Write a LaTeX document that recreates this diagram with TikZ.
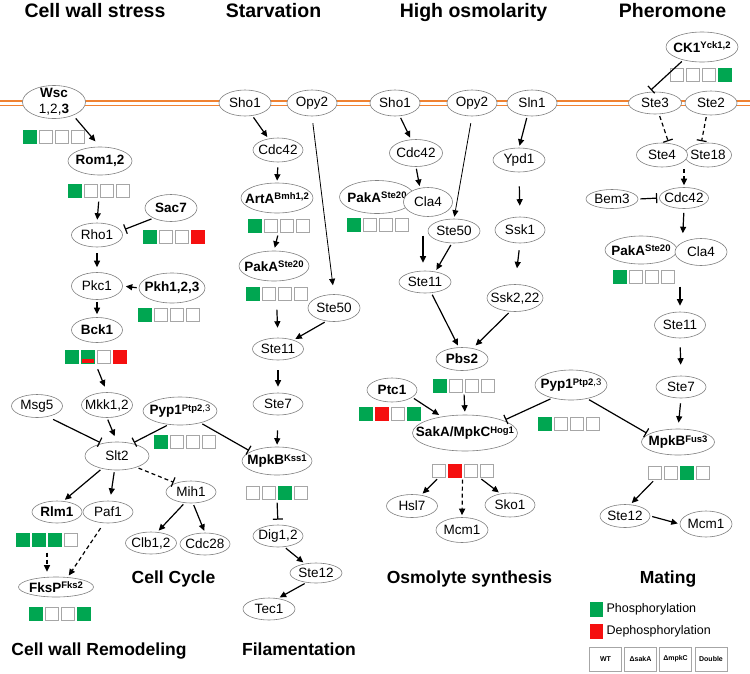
\documentclass[tikz,border=0pt]{standalone}
\usepackage{fontspec}
\setmainfont{Liberation Sans}
\usetikzlibrary{arrows.meta, calc, shapes.geometric}

\definecolor{pgreen}{RGB}{0,166,81}
\definecolor{pred}{RGB}{245,15,15}
\definecolor{membrane}{RGB}{240,130,50}

\newcommand{\sps}[1]{\raisebox{3.5pt}{\fontsize{9.5}{10}\selectfont #1}}
\newcommand{\phosrow}[6]{%
  \node[markrow] (#1) at (#2) {};
  \node[#3] (#1-1) at ($(#1)+(-24,0)$) {};
  \node[#4] (#1-2) at ($(#1)+(-8,0)$) {};
  \node[#5] (#1-3) at ($(#1)+(8,0)$) {};
  \node[#6] (#1-4) at ($(#1)+(24,0)$) {};
}

\begin{document}
\begin{tikzpicture}[x=1pt, y=-1pt,
    prot/.style={ellipse, draw=gray, line width=0.6pt, fill=white, inner xsep=-20pt, inner ysep=-6pt, minimum width=51pt, minimum height=24pt, font=\fontsize{13.5}{16}\selectfont},
    bprot/.style={prot, font=\fontsize{13.5}{16}\selectfont\bfseries},
    act/.style={-{Triangle[length=6.5pt, width=6pt]}, line width=1.2pt, shorten <=2pt, shorten >=2pt},
    inh/.style={-{Bar[width=10pt, line width=1.2pt]}, line width=1.2pt, shorten <=2pt, shorten >=2pt},
    dsh/.style={dash pattern=on 4pt off 3pt},
    title/.style={font=\fontsize{19.5}{22}\selectfont\bfseries, anchor=base},
    outcome/.style={font=\fontsize{17.5}{20}\selectfont\bfseries, anchor=base},
    markrow/.style={rectangle, inner sep=0pt, minimum width=61pt, minimum height=13pt},
    markbox/.style={rectangle, line width=0.6pt, inner sep=0pt, minimum size=13pt},
    mnone/.style={markbox, draw=gray!70, fill=white},
    mphos/.style={markbox, draw=pgreen, fill=pgreen},
    mdeph/.style={markbox, draw=pred, fill=pred},
    msplit/.style={mphos, path picture={\fill[pred] (path picture bounding box.south west) rectangle ([yshift=4.5pt]path picture bounding box.south east);}},
    legtext/.style={anchor=west, font=\fontsize{12.5}{14}\selectfont},
    legbox/.style={rectangle, draw=gray!70, line width=0.6pt, minimum width=32pt, minimum height=24pt, inner sep=0pt, font=\fontsize{7}{8}\selectfont\bfseries}
  ]
  \useasboundingbox (0,0) rectangle (750,673);

  % membrane
  \coordinate (memL) at (0,103);
  \coordinate (memR) at (750,103);
  \draw[draw=membrane, double=white, double distance=3pt, line width=1.3pt] (memL) -- (memR);

  % titles
  \node[title] (tcws) at (95,17) {Cell wall stress};
  \node[title] (tstv) at (273.5,17) {Starvation};
  \node[title] (thos) at (473.5,17) {High osmolarity};
  \node[title] (tphe) at (672.5,17) {Pheromone};

  % cell wall stress
  \node[prot, minimum width=63pt, minimum height=33pt, align=center] (wsc) at (54,102) {\textbf{Wsc}\\1,2,\textbf{3}};
  \phosrow{wscb}{53.5,137}{mphos}{mnone}{mnone}{mnone}
  \node[bprot, minimum width=64pt, minimum height=28pt] (rom) at (100,161) {Rom1,2};
  \phosrow{romb}{99,191}{mphos}{mnone}{mnone}{mnone}
  \node[bprot, minimum width=52pt, minimum height=27pt] (sac7) at (171,208) {Sac7};
  \phosrow{sac7b}{174,237}{mphos}{mnone}{mnone}{mdeph}
  \node[prot] (rho1) at (97,235) {Rho1};
  \node[prot, minimum height=27pt] (pkc1) at (97,286) {Pkc1};
  \node[bprot, minimum width=66pt, minimum height=30pt] (pkh) at (172,288) {Pkh1,2,3};
  \phosrow{pkhb}{169,315}{mphos}{mnone}{mnone}{mnone}
  \node[bprot, minimum height=25pt] (bck1) at (97,330) {Bck1};
  \phosrow{bckb}{95.5,357}{mphos}{msplit}{mnone}{mdeph}
  \node[prot, minimum height=23pt] (msg5) at (37,406) {Msg5};
  \node[prot, minimum height=25pt] (mkk) at (107,405) {Mkk1,2};
  \node[bprot, minimum width=74pt, minimum height=28pt] (pyp1L) at (180,411) {Pyp1\sps{Ptp2{\mdseries,3}}};
  \phosrow{pyp1Lb}{185,442}{mphos}{mnone}{mnone}{mnone}
  \node[prot, minimum width=64pt, minimum height=28pt] (slt2) at (117,456) {Slt2};
  \node[bprot, minimum width=50pt, minimum height=22pt] (rlm1) at (57,512) {Rlm1};
  \node[prot, minimum width=50pt, minimum height=22pt] (paf1) at (108,512) {Paf1};
  \phosrow{rlmb}{47,540}{mphos}{mphos}{mphos}{mnone}
  \node[prot, minimum width=50pt, minimum height=22pt] (mih1) at (191,492) {Mih1};
  \node[prot, minimum height=22pt] (clb) at (151,543) {Clb1,2};
  \node[prot, minimum width=50pt, minimum height=22pt] (cdc28) at (205,544) {Cdc28};
  \node[bprot, minimum width=75pt, minimum height=20pt] (fksp) at (56,587) {FksP\sps{Fks2}};
  \phosrow{fkspb}{59.5,614}{mphos}{mnone}{mnone}{mphos}
  \node[outcome] (tccy) at (173.5,583) {Cell Cycle};
  \node[outcome] (tcwr) at (99,655.5) {Cell wall Remodeling};

  % starvation
  \node[prot, minimum width=52pt, minimum height=26pt] (sho1S) at (245,103) {Sho1};
  \node[prot, minimum width=50pt, minimum height=26pt] (opy2S) at (312,103) {Opy2};
  \node[prot, minimum width=50pt] (cdc42S) at (278,150) {Cdc42};
  \node[bprot, minimum width=72pt, minimum height=30pt] (artA) at (277,198) {ArtA\sps{Bmh1,2}};
  \phosrow{artAb}{278.5,226}{mphos}{mnone}{mnone}{mnone}
  \node[bprot, minimum width=70pt, minimum height=30pt] (pakS) at (274,266) {PakA\sps{Ste20}};
  \phosrow{pakSb}{276.5,294}{mphos}{mnone}{mnone}{mnone}
  \node[prot, minimum width=52pt, minimum height=27pt] (ste50S) at (334,308) {Ste50};
  \node[prot, minimum height=22pt] (ste11S) at (278,349) {Ste11};
  \node[prot, minimum width=50pt, minimum height=22pt] (ste7S) at (278,404) {Ste7};
  \node[bprot, minimum width=70pt, minimum height=28pt] (mpkbK) at (277,461) {MpkB\sps{Kss1}};
  \phosrow{mpkbKb}{277,493}{mnone}{mnone}{mphos}{mnone}
  \node[prot, minimum width=50pt, minimum height=22pt] (dig) at (278,536) {Dig1,2};
  \node[prot, minimum width=52pt, minimum height=20pt] (ste12S) at (316,573) {Ste12};
  \node[prot, minimum width=52pt, minimum height=22pt] (tec1) at (269,609) {Tec1};
  \node[outcome] (tfil) at (299,655.5) {Filamentation};

  % high osmolarity
  \node[prot, minimum width=50pt, minimum height=26pt] (sho1H) at (395,103) {Sho1};
  \node[prot, minimum width=50pt, minimum height=26pt] (opy2H) at (472,103) {Opy2};
  \node[prot, minimum width=50pt, minimum height=26pt] (sln1) at (532,103) {Sln1};
  \node[prot, minimum width=53pt, minimum height=27pt] (cdc42H) at (416,153) {Cdc42};
  \node[bprot, minimum width=75pt, minimum height=33pt] (pakH) at (377,197) {PakA\sps{Ste20}};
  \node[prot, minimum width=49pt, minimum height=29pt] (cla4H) at (428,202) {Cla4};
  \phosrow{pakHb}{377.5,225}{mphos}{mnone}{mnone}{mnone}
  \node[prot, minimum width=52pt] (ste50H) at (454,231) {Ste50};
  \node[prot, minimum width=52pt] (ypd1) at (519,160) {Ypd1};
  \node[prot, minimum width=50pt, minimum height=26pt] (ssk1) at (520,230) {Ssk1};
  \node[prot, minimum width=52pt, minimum height=22pt] (ste11H) at (425,282) {Ste11};
  \node[prot, minimum width=56pt, minimum height=27pt] (ssk2) at (515,298) {Ssk2,22};
  \node[bprot, minimum width=52pt, minimum height=23pt] (pbs2) at (462,359) {Pbs2};
  \phosrow{pbs2b}{464,386}{mphos}{mnone}{mnone}{mnone}
  \node[bprot, minimum width=50pt] (ptc1) at (392,390) {Ptc1};
  \phosrow{ptc1b}{389.5,414}{mphos}{mdeph}{mnone}{mphos}
  \node[bprot, minimum width=105pt, minimum height=36pt] (saka) at (465,433) {SakA/MpkC\sps{Hog1}};
  \phosrow{sakab}{462.5,471}{mnone}{mdeph}{mnone}{mnone}
  \node[bprot, minimum width=72pt, minimum height=30pt] (pyp1R) at (571,385) {Pyp1\sps{Ptp2{\mdseries,3}}};
  \phosrow{pyp1Rb}{569,424}{mphos}{mnone}{mnone}{mnone}
  \node[prot, minimum height=23pt] (hsl7) at (412,506) {Hsl7};
  \node[prot, minimum width=52pt, minimum height=25pt] (mcm1H) at (462,530) {Mcm1};
  \node[prot, minimum width=50pt] (sko1) at (510,505) {Sko1};
  \node[outcome] (tosm) at (469.5,583) {Osmolyte synthesis};

  % pheromone
  \node[bprot, minimum width=72pt, minimum height=30pt] (ck1) at (702,47) {CK1\sps{Yck1,2}};
  \phosrow{ck1b}{700.5,75}{mnone}{mnone}{mnone}{mphos}
  \node[prot, minimum width=53pt, minimum height=22pt] (ste3) at (655,103) {Ste3};
  \node[prot, minimum width=52pt] (ste2) at (711,103) {Ste2};
  \node[prot, minimum width=47pt] (ste18) at (708,155) {Ste18};
  \node[prot, minimum width=51pt] (ste4) at (662,155) {Ste4};
  \node[prot, minimum width=52pt, minimum height=19pt] (bem3) at (612,199) {Bem3};
  \node[prot, minimum width=49pt, minimum height=21pt] (cdc42P) at (684,198) {Cdc42};
  \node[bprot, minimum width=72pt, minimum height=28pt] (pakP) at (641,250) {PakA\sps{Ste20}};
  \node[prot, minimum width=52pt, minimum height=27pt] (cla4P) at (701,252) {Cla4};
  \phosrow{pakPb}{643.5,277}{mphos}{mnone}{mnone}{mnone}
  \node[prot, minimum height=26pt] (ste11P) at (680,325) {Ste11};
  \node[prot, minimum width=50pt, minimum height=22pt] (ste7P) at (681,387) {Ste7};
  \node[bprot, minimum width=73pt, minimum height=26pt] (mpkbF) at (678,442) {MpkB\sps{Fus3}};
  \phosrow{mpkbFb}{678.5,473}{mnone}{mnone}{mphos}{mnone}
  \node[prot, minimum width=50pt, minimum height=23pt] (ste12P) at (625,516) {Ste12};
  \node[prot, minimum width=52pt, minimum height=26pt] (mcm1P) at (706,524) {Mcm1};
  \node[outcome] (tmat) at (668,583) {Mating};

  % legend
  \node[mphos, minimum width=12pt, minimum height=14pt] (lgph) at (596,609) {};
  \node[legtext] (lgpht) at (603,609) {Phosphorylation};
  \node[mdeph, minimum width=12pt, minimum height=14pt] (lgde) at (596,631) {};
  \node[legtext] (lgdet) at (603,631) {Dephosphorylation};
  \node[legbox] (lgwt) at (605.5,659) {WT};
  \node[legbox] (lgsa) at (640.5,659) {ΔsakA};
  \node[legbox] (lgmc) at (675.5,659) {ΔmpkC};
  \node[legbox] (lgdb) at (711,659) {Double};

  % cell wall stress links
  \draw[act, shorten <=4pt, shorten >=7pt] (wsc.-35) -- (rom.north);
  \draw[act, shorten <=4pt, shorten >=3pt] (romb.south) -- (rho1.north);
  \draw[inh, shorten >=4pt] (sac7.210) -- (rho1.10);
  \draw[act, shorten <=6pt, shorten >=5pt] (rho1.south) -- (pkc1.north);
  \draw[act, shorten >=3pt] (pkh.west) -- (pkc1.east);
  \draw[act, shorten >=3pt] (pkc1.south) -- (bck1.north);
  \draw[act, shorten <=6pt, shorten >=6pt] (bckb.south) -- (mkk.north);
  \draw[inh, shorten <=6pt] (msg5.-45) -- (slt2.140);
  \draw[act, shorten >=6pt] (mkk.south) -- (slt2.north);
  \draw[inh] (pyp1L.-130) -- (slt2.40);
  \draw[inh] (pyp1L.-30) -- (mpkbK.160);
  \draw[act] (slt2.-140) -- (rlm1.60);
  \draw[act, shorten >=6pt] (slt2.-100) -- (paf1.80);
  \draw[inh, dsh] (slt2.-30) -- (mih1.150);
  \draw[act, dsh, shorten <=6pt, shorten >=5pt] (rlmb.south) -- (fksp.north -| rlmb.south);
  \draw[act, dsh, shorten <=6pt] (paf1.-110) -- (fksp.40);
  \draw[act] (mih1.-120) -- (clb.60);
  \draw[act] (mih1.-80) -- (cdc28.north);

  % starvation links
  \draw[act] (sho1S.-60) -- (cdc42S.130);
  \draw[act, shorten <=5pt] (cdc42S.south) -- (artA.north);
  \draw[act, line width=0.8pt, shorten <=7pt, shorten >=9pt] (opy2S.south) -- (ste50S.north);
  \draw[act, shorten <=3pt, shorten >=3pt] (artAb.south) -- (pakS.north);
  \draw[act, shorten <=9pt, shorten >=10pt] (pakSb.south) -- (ste11S.north);
  \draw[act] (ste50S.-120) -- (ste11S.30);
  \draw[act, shorten <=10pt, shorten >=6pt] (ste11S.south) -- (ste7S.north);
  \draw[act, shorten <=15pt] (ste7S.south) -- (mpkbK.north);
  \draw[inh, shorten <=3pt, shorten >=5pt] (mpkbKb.south) -- (dig.north);
  \draw[act] (dig.-60) -- (ste12S.140);
  \draw[act] (ste12S.-135) -- (tec1.50);

  % high osmolarity links
  \draw[act] (sho1H.-70) -- (cdc42H.110);
  \draw[act] (cdc42H.south) -- (cla4H.120);
  \draw[act, line width=0.8pt, shorten <=7pt] (opy2H.south) -- (ste50H.north);
  \draw[act] (sln1.-110) -- (ypd1.north);
  \draw[act, shorten <=14pt, shorten >=11pt] (ypd1.south) -- (ssk1.north);
  \draw[act, shorten <=7pt, shorten >=16pt] (ssk1.south) -- (ssk2.north);
  \draw[act, shorten <=4pt, shorten >=8pt] (ste11H.100 |- pakHb.south) -- (ste11H.100);
  \draw[act] (ste50H.-100) -- (ste11H.45);
  \draw[act] (ste11H.-60) -- (pbs2.105);
  \draw[act, shorten >=4pt] (ssk2.-110) -- (pbs2.45);
  \draw[act, shorten >=3pt] (pbs2b.south) -- (saka.north);
  \draw[act, shorten >=3pt] (ptc1.-20) -- (saka.145);
  \draw[inh] (pyp1R.-145) -- (saka.18);
  \draw[inh] (pyp1R.-40) -- (mpkbF.165);
  \draw[act] (sakab-1.south) -- (hsl7.50);
  \draw[act, dsh] (sakab.south) -- (mcm1H.north);
  \draw[act] (sakab-4.south west) -- (sko1.130);

  % pheromone links
  \draw[inh, shorten >=3pt] (ck1.-145) -- (ste3.120);
  \draw[inh, dsh] (ste3.-70) -- (ste4.60);
  \draw[inh, dsh] (ste2.-110) -- (ste18.120);
  \draw[act, dsh] (ste4.south -| cdc42P.north) -- (cdc42P.north);
  \draw[inh] (bem3.east) -- (cdc42P.west);
  \draw[act, shorten <=4pt, shorten >=9pt] (cdc42P.south) -- (cla4P.north west);
  \draw[act, shorten <=3pt, shorten >=6pt] (ste11P.north |- pakPb.south) -- (ste11P.north);
  \draw[act, shorten <=9pt, shorten >=11pt] (ste11P.south) -- (ste7P.north);
  \draw[act, shorten <=5pt, shorten >=6pt] (ste7P.south) -- (mpkbF.north);
  \draw[act] (mpkbFb-1.south) -- (ste12P.65);
  \draw[act] (ste12P.east) -- (mcm1P.west);
\end{tikzpicture}
\end{document}
